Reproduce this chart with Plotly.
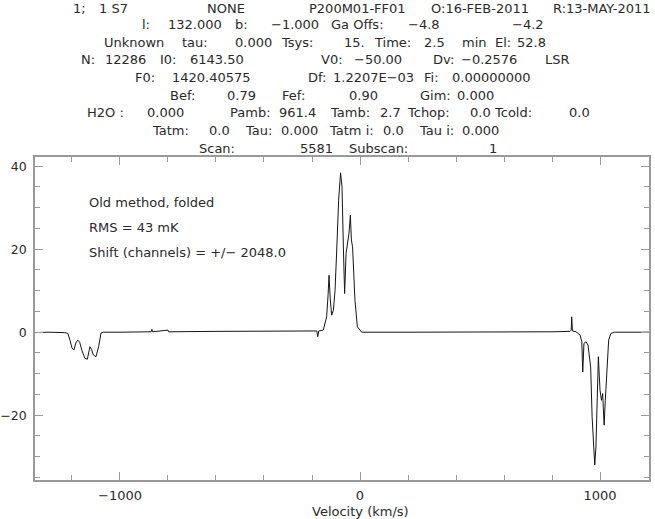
import plotly.graph_objects as go

# ---------------- data ----------------
velocity = [-1354, -1300, -1230, -1217, -1208, -1200, -1192, -1184, -1176, -1168,
            -1158, -1146, -1136, -1125, -1118, -1111, -1100, -1089, -1079, -1070,
            -1000, -900, -870, -867, -864, -800, -798, -600, -400, -250,
            -180, -176, -172, -153, -139, -133, -129, -124, -118, -111,
            -104, -97, -89, -81, -75, -69, -64, -58, -51, -46,
            -40, -36, -31, -21, -11, 7, 200, 500, 800, 875,
            880, 882, 885, 900, 917, 924, 928, 933, 942, 950,
            961, 967, 972, 978, 983, 989, 993, 1000, 1006, 1011,
            1017, 1022, 1031, 1036, 1045, 1060, 1204]
antenna_temp = [-0.1, 0.0, -0.1, -0.3, -2.0, -3.8, -4.3, -2.6, -1.9, -2.4,
                -4.5, -6.3, -6.5, -3.5, -4.2, -5.5, -5.9, -3.5, -0.2, 0.0,
                0.0, 0.1, 0.1, 0.7, 0.1, 0.5, 0.1, 0.2, 0.2, 0.3,
                0.3, -1.1, 0.3, 0.5, 3.7, 9.0, 13.7, 8.0, 4.1, 5.3,
                10.0, 19.8, 31.8, 38.4, 35.0, 19.8, 9.3, 19.0, 21.4, 23.8,
                28.2, 22.2, 20.6, 7.7, 1.3, 0.0, 0.0, 0.0, 0.1, 0.2,
                0.5, 3.7, 0.3, 0.1, -0.7, -2.3, -9.6, -2.7, -2.3, -3.1,
                -8.4, -20.4, -27.6, -32.0, -27.6, -12.4, -5.9, -14.0, -16.4, -14.8,
                -22.4, -16.4, -8.4, -1.9, -0.3, 0.0, 0.0]

x_range = [-1354, 1204]
y_range = [-35.6, 42.2]
x_tick_values = [-1000, 0, 1000]
y_tick_values = [-20, 0, 20, 40]
x_axis_title = "Velocity (km/s)"

header_lines = [
    [("1;", 71), ("1 S7", 97), ("NONE", 205), ("P200M01-FF01", 307),
     ("O:16-FEB-2011", 429), ("R:13-MAY-2011", 561)],
    [("l:", 140), ("132.000", 166), ("b:", 233), ("\u22121.000", 269),
     ("Ga Offs:", 329), ("\u22124.8", 406), ("\u22124.2", 510)],
    [("Unknown", 102), ("tau:", 180), ("0.000", 233), ("Tsys:", 279),
     ("15.", 342), ("Time:", 372), ("2.5", 422), ("min", 460), ("El:", 493), ("52.8", 515)],
    [("N:", 79), ("12286", 103), ("I0:", 158), ("6143.50", 188), ("V0:", 319),
     ("\u221250.00", 352), ("Dv:", 431), ("\u22120.2576", 459), ("LSR", 543)],
    [("F0:", 133), ("1420.40575", 170), ("Df:", 306), ("1.2207E\u221203", 331),
     ("Fi:", 422), ("0.00000000", 450)],
    [("Bef:", 168), ("0.79", 225), ("Fef:", 280), ("0.90", 347), ("Gim:", 418), ("0.000", 455)],
    [("H2O :", 85), ("0.000", 145), ("Pamb:", 228), ("961.4", 277), ("Tamb:", 328),
     ("2.7", 378), ("Tchop:", 405), ("0.0", 468), ("Tcold:", 492), ("0.0", 567)],
    [("Tatm:", 150), ("0.0", 207), ("Tau:", 243), ("0.000", 279), ("Tatm i:", 327),
     ("0.0", 381), ("Tau i:", 417), ("0.000", 460)],
    [("Scan:", 197), ("5581", 298), ("Subscan:", 347), ("1", 487)],
]
header_y = [8, 24.5, 42, 59.6, 77.2, 95, 112.8, 130.6, 148.4]
line1_right_edge = 653

inner_notes = ["Old method, folded", "RMS = 43 mK", "Shift (channels) = +/\u2212 2048.0"]
inner_y = [202, 227, 252]
inner_x = 87

# ---------------- layout geometry (pixels) ----------------
W, H = 655, 519
L, R, T, B = 35, 649, 157, 480
FONT = "DejaVu Sans"
TXT = "#2a2a2a"
AX = "#9a9a9a"


def px(x):
    return (x - L) / (R - L)


def py(y):
    return (B - y) / (B - T)


fig = go.Figure()
fig.add_trace(go.Scatter(x=velocity, y=antenna_temp, mode="lines",
                         line=dict(color="#151515", width=1), hoverinfo="skip",
                         showlegend=False))

annotations = []
for i, (line, yy) in enumerate(zip(header_lines, header_y)):
    for j, (text, xx) in enumerate(line):
        anchor = "left"
        pos = xx
        if i == 0 and j == len(line) - 1:
            anchor = "right"
            pos = line1_right_edge
        annotations.append(dict(text=text, x=px(pos), y=py(yy), xref="paper", yref="paper",
                                xanchor=anchor, yanchor="middle", showarrow=False,
                                font=dict(family=FONT, size=13, color=TXT)))
for text, yy in zip(inner_notes, inner_y):
    annotations.append(dict(text=text, x=px(inner_x), y=py(yy), xref="paper", yref="paper",
                            xanchor="left", yanchor="middle", showarrow=False,
                            font=dict(family=FONT, size=13, color=TXT)))
annotations.append(dict(text=x_axis_title, x=px(360), y=py(511), xref="paper", yref="paper",
                        xanchor="center", yanchor="middle", showarrow=False,
                        font=dict(family=FONT, size=13, color=TXT)))

axis_common = dict(showline=True, linecolor=AX, linewidth=1.5, mirror="ticks",
                   ticks="inside", tickcolor=AX, tickwidth=1.2, ticklen=8,
                   showgrid=False, zeroline=False, automargin=False)

fig.update_layout(
    width=W, height=H, autosize=False,
    margin=dict(l=L, r=W - R, t=T, b=H - B),
    paper_bgcolor="white", plot_bgcolor="white",
    annotations=annotations,
    xaxis=dict(range=x_range, tickvals=x_tick_values, ticklabelstandoff=3,
               tickfont=dict(family=FONT, size=13, color=TXT),
               minor=dict(dtick=200, tick0=0, ticks="inside", ticklen=5,
                          tickcolor=AX, tickwidth=1.2, showgrid=False),
               **axis_common),
    yaxis=dict(range=y_range, tickvals=y_tick_values, ticklabelstandoff=4,
               tickfont=dict(family=FONT, size=12.5, color=TXT),
               minor=dict(dtick=5, tick0=0, ticks="inside", ticklen=5,
                          tickcolor=AX, tickwidth=1.2, showgrid=False),
               **axis_common),
)

fig.write_html("out.html", config={"displayModeBar": False},
               post_script="document.body.style.margin='0px';document.body.style.overflow='hidden';")
